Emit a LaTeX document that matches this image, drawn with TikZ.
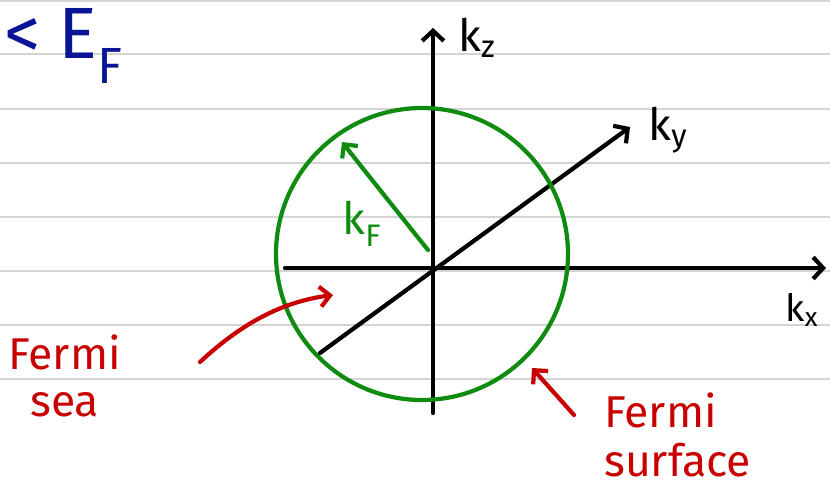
\documentclass[tikz,border=0pt]{standalone}
\usepackage{fontspec}
\setmainfont{Fira Sans}
\usetikzlibrary{arrows.meta}
\definecolor{inkblue}{RGB}{10,20,150}
\definecolor{inkgreen}{RGB}{15,140,15}
\definecolor{inkred}{RGB}{200,0,0}
\begin{document}
\begin{tikzpicture}[x=0.03cm, y=-0.03cm,
  rule/.style={black!17, line width=1.6pt},
  axis/.style={-{Straight Barb[length=3mm,width=6.5mm]}, line width=3.6pt, line cap=round},
  pen/.style={-{Straight Barb[length=3mm,width=6mm]}, line width=3.6pt, line cap=round, draw=#1},
  ink/.style={text=#1, inner sep=0pt, font=\fontsize{38}{40}\selectfont}
]
  \useasboundingbox (0,0) rectangle (830,490);

  % Lignes du cahier
  \foreach \y in {1,54,109,163,217,271,325,379}
    \draw[rule] (0,\y) -- (830,\y);

  % Titre
  \node[ink=inkblue, anchor=west, font=\fontsize{62}{64}\selectfont] (ef) at (4,46)
    {<\hspace{0.25em}E\textsubscript{F}};

  % Axes
  \coordinate (O) at (433,268);
  \coordinate (zlo) at (433,413);
  \coordinate (ztop) at (433,28);
  \coordinate (xlo) at (285,268);
  \coordinate (xtop) at (826,268);
  \coordinate (ylo) at (320,353);
  \coordinate (ytop) at (630,127);
  \draw[axis] (zlo) -- (ztop);
  \draw[axis] (xlo) -- (xtop);
  \draw[axis] (ylo) -- (ytop);
  \node[ink=black, anchor=west] (kz) at (458,38) {k\textsubscript{z}};
  \node[ink=black] (ky) at (668,130) {k\textsubscript{y}};
  \node[ink=black, font=\fontsize{32}{34}\selectfont] (kx) at (802,310) {k\textsubscript{x}};

  % Sphere de Fermi
  \node[circle, draw=inkgreen, line width=3.6pt, minimum size=292*0.03cm, inner sep=0pt] (fs) at (422,254) {};
  \coordinate (kfa) at (428,250);
  \coordinate (kfb) at (342,142);
  \draw[pen=inkgreen] (kfa) .. controls (400,215) and (372,180) .. (kfb);
  \node[ink=inkgreen] (kf) at (362,224) {k\textsubscript{F}};

  % Fermi sea
  \node[ink=inkred, anchor=west] (fermi1) at (8,352) {Fermi};
  \node[ink=inkred, anchor=west] (sea) at (30,405) {sea};
  \coordinate (sa) at (200,362);
  \coordinate (sb) at (333,295);
  \draw[pen=inkred] (sa) .. controls (240,325) and (280,302) .. (sb);

  % Fermi surface
  \node[ink=inkred, anchor=west] (fermi2) at (604,410) {Fermi};
  \node[ink=inkred, anchor=west] (surf) at (604,460) {surface};
  \coordinate (ua) at (574,415);
  \coordinate (ub) at (532,368);
  \draw[pen=inkred] (ua) -- (ub);
\end{tikzpicture}
\end{document}
